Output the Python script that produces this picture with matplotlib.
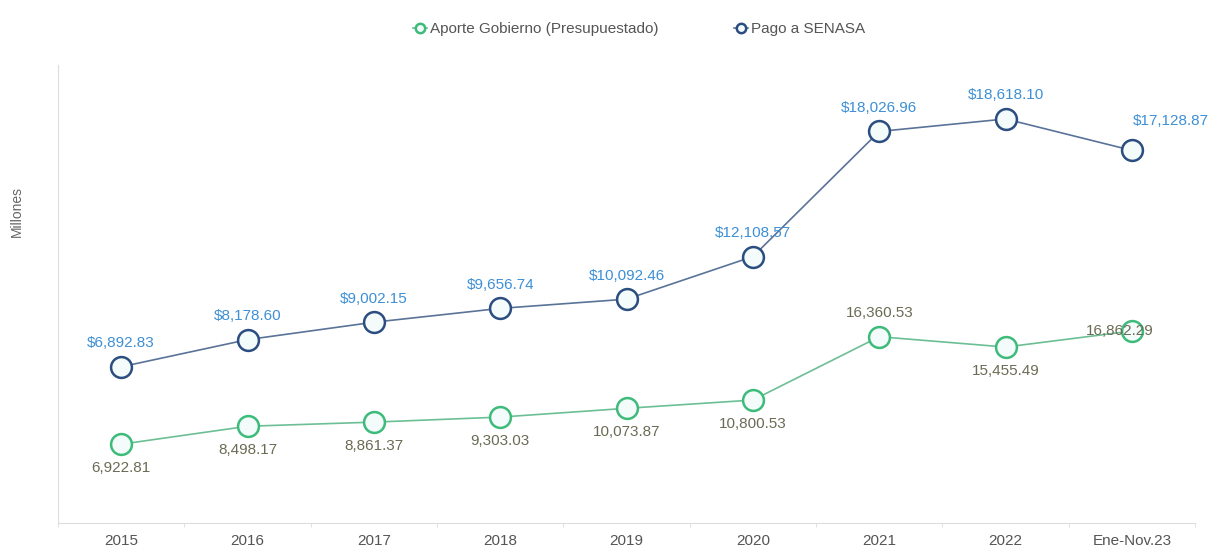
import numpy as np
import matplotlib.pyplot as plt

plt.rcParams['font.family'] = ['Liberation Sans', 'DejaVu Sans']

# categories and series (millones)
anios = ['2015', '2016', '2017', '2018', '2019', '2020', '2021', '2022', 'Ene-Nov.23']
aporte = [6922.81, 8498.17, 8861.37, 9303.03, 10073.87, 10800.53, 16360.53, 15455.49, 16862.29]
pago = [6892.83, 8178.60, 9002.15, 9656.74, 10092.46, 12108.57, 18026.96, 18618.10, 17128.87]

x = np.arange(len(anios))

fig = plt.figure(figsize=(12.22, 5.48), dpi=100)
ax = fig.add_axes([0.0475, 0.0456, 0.9305, 0.835])
ax2 = ax.twinx()

verde = '#3dbb7a'
verde_linea = '#6cbf95'
azul = '#2b4d80'
azul_linea = '#5a7398'
cara = '#f3fbfb'
fs = 11

ax.plot(x, aporte, color=verde_linea, lw=1.2, marker='o', ms=15, mfc=cara,
        mec=verde, mew=1.8, label='Aporte Gobierno (Presupuestado)', zorder=3)
ax2.plot(x, pago, color=azul_linea, lw=1.2, marker='o', ms=15, mfc=cara,
         mec=azul, mew=1.8, label='Pago a SENASA', zorder=3)

ax.set_ylim(0, 40190)
ax2.set_ylim(-497, 21150)
ax.set_xlim(-0.5, len(anios) - 0.5)

# value labels
for i, v in enumerate(aporte):
    txt = f'{v:,.2f}'
    if i == 6:
        ax.annotate(txt, (i, v), xytext=(0, 12), textcoords='offset points',
                    ha='center', va='bottom', fontsize=fs, color='#6b6b55')
    elif i == len(aporte) - 1:
        ax.annotate(txt, (i, v), xytext=(-9, 0), textcoords='offset points',
                    ha='center', va='center', fontsize=fs, color='#6b6b55')
    else:
        ax.annotate(txt, (i, v), xytext=(0, -12), textcoords='offset points',
                    ha='center', va='top', fontsize=fs, color='#6b6b55')

for i, v in enumerate(pago):
    txt = f'${v:,.2f}'
    if i == len(pago) - 1:
        ax2.annotate(txt, (i, v), xytext=(28, 16), textcoords='offset points',
                     ha='center', va='bottom', fontsize=fs, color='#3d8fd6')
    else:
        ax2.annotate(txt, (i, v), xytext=(0, 12), textcoords='offset points',
                     ha='center', va='bottom', fontsize=fs, color='#3d8fd6')

for a in (ax, ax2):
    for s in ['top', 'right']:
        a.spines[s].set_visible(False)
    a.spines['left'].set_color('#dddddd')
    a.spines['bottom'].set_color('#dddddd')
ax2.spines['left'].set_visible(False)
ax2.spines['bottom'].set_visible(False)
ax2.set_yticks([])
ax.set_yticks([])

ax.set_xticks(x)
ax.set_xticklabels(anios, fontsize=fs, color='#555555')
ax.tick_params(axis='x', length=0, pad=8)
ax.set_xticks(np.arange(-0.5, len(anios)), minor=True)
ax.tick_params(axis='x', which='minor', length=3, color='#dddddd')

ax.set_ylabel('Millones', fontsize=10, color='#666666')
ax.yaxis.set_label_coords(-0.03, 0.68)

h1, l1 = ax.get_legend_handles_labels()
h2, l2 = ax2.get_legend_handles_labels()
leg = fig.legend(h1 + h2, l1 + l2, loc='upper center', bbox_to_anchor=(0.523, 0.985),
                 ncol=2, frameon=False, fontsize=fs, columnspacing=5.0,
                 handlelength=0.9, handletextpad=0.2, markerscale=0.45)
for t in leg.get_texts():
    t.set_color('#555555')

fig.savefig('out.png', dpi=100)
